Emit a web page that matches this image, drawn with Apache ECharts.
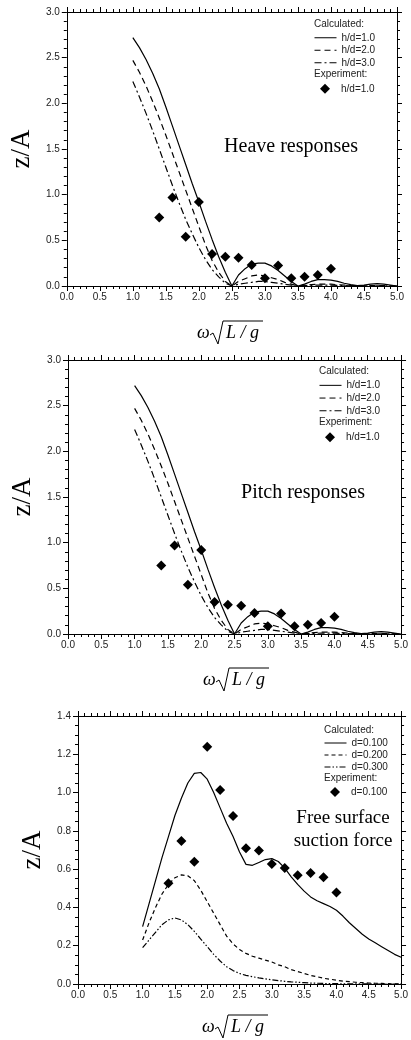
<!DOCTYPE html>
<html>
<head>
<meta charset="utf-8">
<script src="https://cdn.jsdelivr.net/npm/echarts@6/dist/echarts.min.js"></script>
<style>
html,body{margin:0;padding:0;background:#fff;}
#main{width:411px;height:1040px;}
</style>
</head>
<body>
<div id="main"></div>
<script>
// x positions of the calculated curves (omega*sqrt(L/g))
var xCalc = [1.0,1.1,1.2,1.3,1.4,1.5,1.6,1.7,1.8,1.9,2.0,2.1,2.2,2.3,2.4,2.5,2.6,2.7,2.8,2.9,3.0,
             3.1,3.2,3.3,3.4,3.5,3.6,3.7,3.8,3.9,4.0,4.1,4.2,4.3,4.4,4.5,4.6,4.7,4.8,4.9,5.0];
// x positions of the experiment points
var xExp = [1.4,1.6,1.8,2.0,2.2,2.4,2.6,2.8,3.0,3.2,3.4,3.6,3.8,4.0];

// heave responses
var heaveH1 = [2.72,2.61,2.48,2.33,2.16,1.96,1.75,1.54,1.33,1.12,0.92,0.71,0.51,0.32,0.15,0.00,0.12,0.19,0.24,0.25,0.25,
               0.22,0.17,0.11,0.05,0.00,0.02,0.05,0.07,0.07,0.065,0.05,0.03,0.015,0.005,0.01,0.02,0.025,0.02,0.01,0.00];
var heaveH2 = [2.47,2.34,2.19,2.02,1.84,1.65,1.45,1.25,1.05,0.85,0.65,0.45,0.28,0.15,0.05,0.00,0.05,0.08,0.11,0.12,0.11,
               0.09,0.07,0.04,0.02,0.00,0.01,0.015,0.02,0.02,0.02,0.015,0.01,0.005,0.003,0.003,0.005,0.005,0.004,0.002,0.00];
var heaveH3 = [2.24,2.07,1.89,1.70,1.50,1.30,1.10,0.91,0.73,0.57,0.42,0.29,0.18,0.10,0.03,0.00,0.02,0.03,0.04,0.05,0.05,
               0.04,0.03,0.02,0.01,0.00,0.005,0.007,0.01,0.01,0.01,0.007,0.005,0.003,0.002,0.002,0.003,0.003,0.002,0.001,0.00];
var heaveExp = [0.75,0.97,0.54,0.92,0.35,0.32,0.31,0.23,0.085,0.225,0.085,0.10,0.12,0.19];

// pitch responses (same curves as heave in the figure)
var pitchH1 = heaveH1;
var pitchH2 = heaveH2;
var pitchH3 = heaveH3;
var pitchExp = heaveExp;

// free surface suction force
var suctionD1 = [0.30,0.42,0.54,0.66,0.77,0.88,0.97,1.05,1.10,1.105,1.07,1.00,0.92,0.84,0.77,0.69,0.625,0.62,0.635,0.65,0.655,
                 0.64,0.605,0.56,0.52,0.485,0.455,0.435,0.42,0.405,0.385,0.355,0.32,0.29,0.26,0.235,0.215,0.195,0.175,0.155,0.14];
var suctionD2 = [0.23,0.32,0.40,0.47,0.52,0.555,0.57,0.565,0.54,0.49,0.43,0.37,0.31,0.25,0.21,0.18,0.16,0.145,0.135,0.125,0.115,
                 0.10,0.09,0.075,0.065,0.055,0.045,0.038,0.03,0.025,0.02,0.015,0.012,0.009,0.007,0.005,0.004,0.003,0.002,0.001,0.0];
var suctionD3 = [0.19,0.23,0.27,0.31,0.335,0.345,0.335,0.31,0.275,0.235,0.195,0.155,0.12,0.09,0.07,0.055,0.045,0.038,0.032,0.027,0.022,
                 0.018,0.014,0.011,0.009,0.007,0.005,0.004,0.003,0.002,0.002,0.001,0.001,0.001,0.001,0.001,0.0,0.0,0.0,0.0,0.0];
var suctionExp = [0.526,0.747,0.639,1.239,1.013,0.877,0.709,0.697,0.627,0.606,0.568,0.58,0.558,0.478];

var xTicks = {min:0, max:5, interval:0.5};

function pair(xs, ys){
	var out = [];
	for(var i=0;i<xs.length;i++){
		out.push([xs[i], ys[i]]);
	}
	return out;
}

function minorTick(split){
	return {show:true, splitNumber:split, length:3, lineStyle:{color:'#000', width:1}};
}

var fmt1 = function(v){ return v.toFixed(1); };
var sans = 'Liberation Sans, Arial, sans-serif';
var serif = 'Liberation Serif, Times New Roman, serif';

var option = {
	animation:false,
	backgroundColor:'#fff',
	grid:[
		{left:61, top:12, width:336, height:274},
		{left:68, top:360, width:334, height:274},
		{left:78, top:716, width:329, height:268}
	],
	xAxis:[],
	yAxis:[],
	legend:[],
	series:[],
	graphic:[]
};

//four axes round each box
function addAxes(gi, ymax, yint, ysplit, nameGap){
	var tick = {show:true, length:5, lineStyle:{color:'#000', width:1}};
	var line = {show:true, onZero:false, lineStyle:{color:'#000', width:1}};
	option.xAxis.push({
		gridIndex:gi, type:'value', min:xTicks.min, max:xTicks.max, interval:xTicks.interval,
		axisLine:line, axisTick:tick, minorTick:minorTick(5),
		splitLine:{show:false},
		axisLabel:{fontSize:10, color:'#222', fontFamily:sans, margin:6, formatter:fmt1}
	});
	option.xAxis.push({
		gridIndex:gi, type:'value', position:'top', min:xTicks.min, max:xTicks.max, interval:xTicks.interval,
		axisLine:line, axisTick:tick, minorTick:minorTick(5),
		splitLine:{show:false}, axisLabel:{show:false}
	});
	option.yAxis.push({
		gridIndex:gi, type:'value', min:0, max:ymax, interval:yint,
		name:'z/A', nameLocation:'middle', nameGap:nameGap, nameRotate:90,
		nameTextStyle:{fontFamily:serif, fontSize:27, color:'#000'},
		axisLine:line, axisTick:tick, minorTick:minorTick(ysplit),
		splitLine:{show:false},
		axisLabel:{fontSize:10, color:'#222', fontFamily:sans, margin:7, formatter:fmt1}
	});
	option.yAxis.push({
		gridIndex:gi, type:'value', position:'right', min:0, max:ymax, interval:yint,
		axisLine:line, axisTick:tick, minorTick:minorTick(ysplit),
		splitLine:{show:false}, axisLabel:{show:false}
	});
}

function addSeries(gi, names, ys, dashes, expName, expYs){
	for(var i=0;i<names.length;i++){
		option.series.push({
			name:names[i], type:'line', xAxisIndex:gi*2, yAxisIndex:gi*2,
			data:pair(xCalc, ys[i]), symbol:'none', smooth:false,
			lineStyle:{color:'#000', width:1.2, type:dashes[i]}, itemStyle:{color:'#000'}
		});
	}
	option.series.push({
		name:expName, type:'scatter', xAxisIndex:gi*2, yAxisIndex:gi*2,
		data:pair(xExp, expYs), symbol:'diamond', symbolSize:10,
		itemStyle:{color:'#000', opacity:1}
	});
}

function addLegend(left, top, rowH, names, expName){
	option.legend.push({
		left:left, top:top, orient:'vertical', itemWidth:22, itemHeight:8, itemGap:0, padding:0,
		data:names, selectedMode:false, itemStyle:{opacity:0}, lineStyle:{width:1},
		textStyle:{fontSize:10, fontFamily:sans, color:'#222', lineHeight:rowH}
	});
	option.legend.push({
		left:left + 6, top:top + rowH*4 + 1, orient:'vertical', itemWidth:10, itemHeight:10, itemGap:0, padding:0,
		data:[expName], selectedMode:false,
		formatter:function(n){ return n.replace('Experiment ', ''); },
		textStyle:{fontSize:10, fontFamily:sans, color:'#222', lineHeight:rowH, padding:[0,0,0,6]}
	});
	option.graphic.push({type:'text', left:left, top:top - rowH, style:{text:'Calculated:', font:'10px ' + sans, fill:'#222'}});
	option.graphic.push({type:'text', left:left, top:top + rowH*3, style:{text:'Experiment:', font:'10px ' + sans, fill:'#222'}});
}

//x axis title: omega * sqrt(L / g)
function addXTitle(cx, cy){
	option.graphic.push({
		type:'group', x:cx, y:cy,
		children:[
			{type:'text', x:-33, y:0, style:{text:'\u03c9', font:'italic 18px ' + serif, fill:'#000', verticalAlign:'middle'}},
			{type:'polyline', shape:{points:[[-20,2],[-17,0],[-12,11],[-7,-12],[33,-12]]}, style:{stroke:'#000', lineWidth:1, fill:null}},
			{type:'text', x:-4, y:0, style:{text:'L / g', font:'italic 18px ' + serif, fill:'#000', verticalAlign:'middle'}}
		]
	});
}

function addNote(x, y, txt, size){
	option.graphic.push({type:'text', x:x, y:y, style:{text:txt, font:size + 'px ' + serif, fill:'#000', align:'center', verticalAlign:'middle', lineHeight:23}});
}

var hdNames = ['h/d=1.0','h/d=2.0','h/d=3.0'];
var dNames = ['d=0.100','d=0.200','d=0.300'];

addAxes(0, 3.0, 0.5, 5, 13);
addAxes(1, 3.0, 0.5, 5, 13);
addAxes(2, 1.4, 0.2, 4, 13);

addSeries(0, hdNames, [heaveH1, heaveH2, heaveH3], ['solid',[6,4],[7,3,2,3]], 'Experiment h/d=1.0', heaveExp);
addSeries(1, hdNames, [pitchH1, pitchH2, pitchH3], ['solid',[6,4],[7,3,2,3]], 'Experiment h/d=1.0', pitchExp);
addSeries(2, dNames, [suctionD1, suctionD2, suctionD3], ['solid',[4,3],[6,2,1.5,2,1.5,2]], 'Experiment d=0.100', suctionExp);

addLegend(314, 31.5, 12.5, hdNames, 'Experiment h/d=1.0');
addLegend(319, 379, 12.7, hdNames, 'Experiment h/d=1.0');
addLegend(324, 737, 12, dNames, 'Experiment d=0.100');

addNote(291, 147, 'Heave responses', 20);
addNote(303, 493, 'Pitch responses', 20);
addNote(343, 830, 'Free surface\nsuction force', 19);

addXTitle(230, 333);
addXTitle(236, 680);
addXTitle(235, 1027);

var myChart = echarts.init(document.getElementById('main'));
myChart.setOption(option);
</script>
</body>
</html>
